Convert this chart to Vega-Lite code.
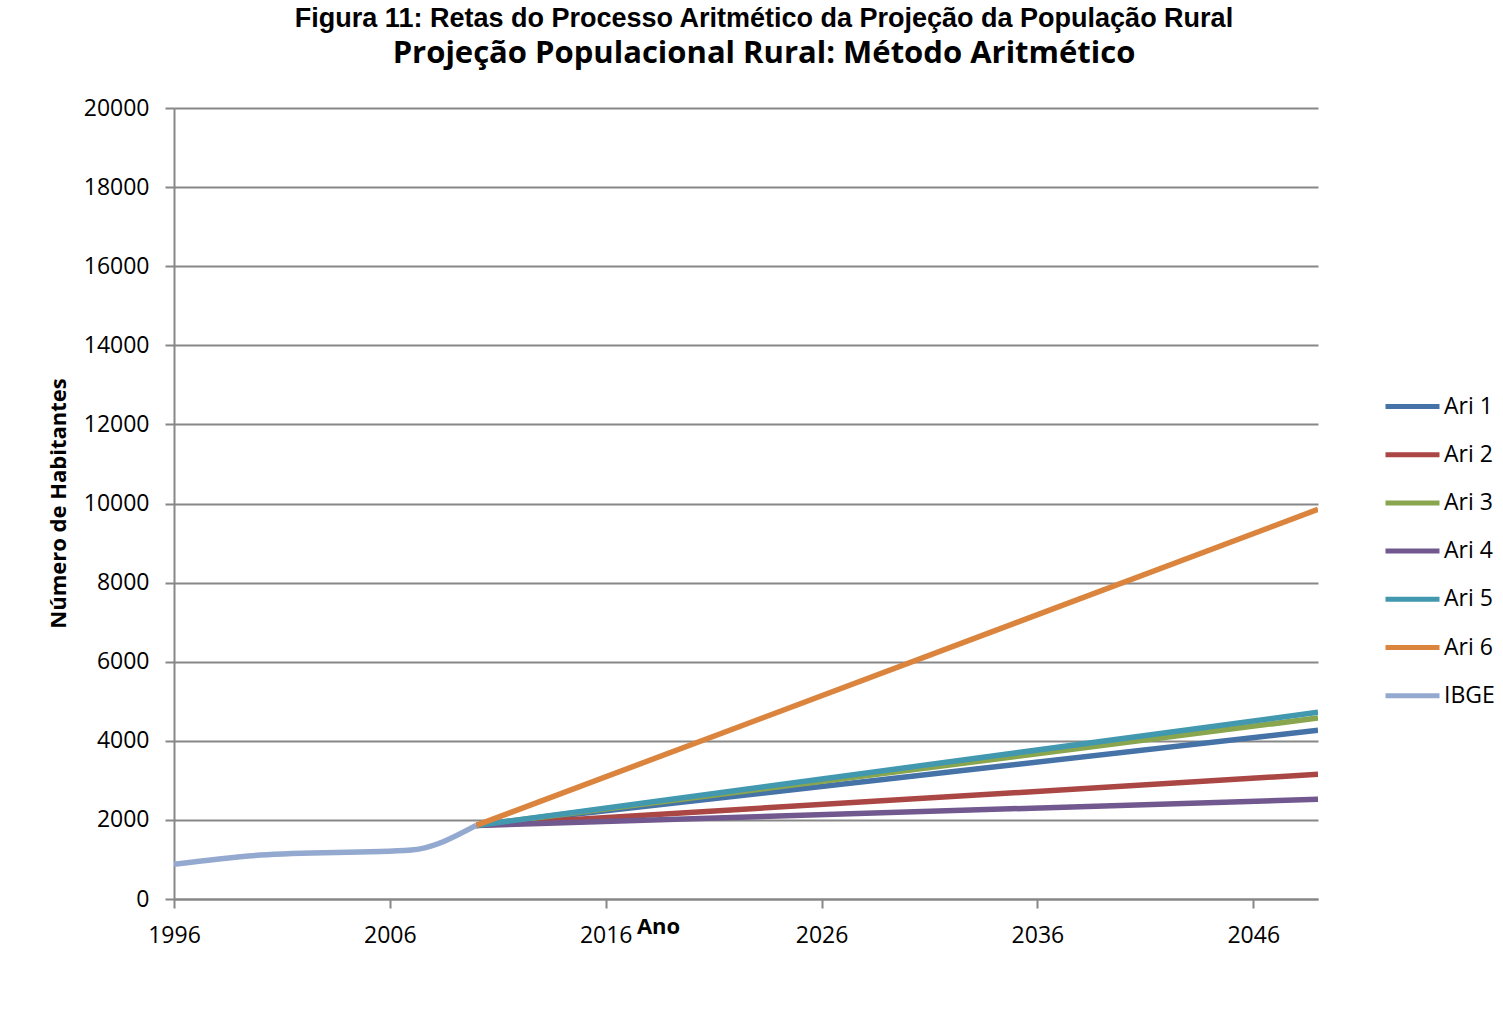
{
  "$schema": "https://vega.github.io/schema/vega-lite/v6.json",
  "width": 1144,
  "height": 791,
  "autosize": {"type": "none"},
  "padding": {"left": 174, "top": 108, "right": 185, "bottom": 116},
  "background": "white",
  "title": {
    "text": "Figura 11: Retas do Processo Aritmético da Projeção da População Rural",
    "subtitle": "Projeção Populacional Rural: Método Aritmético",
    "anchor": "middle",
    "frame": "group",
    "dx": 18,
    "offset": 27,
    "font": "Liberation Sans Narrow, Liberation Sans",
    "fontSize": 27,
    "fontWeight": "bold",
    "color": "black",
    "subtitleFont": "Open Sans",
    "subtitleFontSize": 31,
    "subtitleFontWeight": "bold",
    "subtitleColor": "black",
    "subtitlePadding": 6
  },
  "data": {
    "values": [
      {"serie": "Ari 1", "ano": 2010, "hab": 1860},
      {"serie": "Ari 1", "ano": 2049, "hab": 4265},
      {"serie": "Ari 2", "ano": 2010, "hab": 1860},
      {"serie": "Ari 2", "ano": 2049, "hab": 3153},
      {"serie": "Ari 3", "ano": 2010, "hab": 1860},
      {"serie": "Ari 3", "ano": 2049, "hab": 4577},
      {"serie": "Ari 4", "ano": 2010, "hab": 1860},
      {"serie": "Ari 4", "ano": 2049, "hab": 2521},
      {"serie": "Ari 5", "ano": 2010, "hab": 1860},
      {"serie": "Ari 5", "ano": 2049, "hab": 4721},
      {"serie": "Ari 6", "ano": 2010, "hab": 1860},
      {"serie": "Ari 6", "ano": 2049, "hab": 9853},
      {"serie": "IBGE", "ano": 1996, "hab": 880},
      {"serie": "IBGE", "ano": 2000, "hab": 1110},
      {"serie": "IBGE", "ano": 2007, "hab": 1240},
      {"serie": "IBGE", "ano": 2010, "hab": 1860}
    ]
  },
  "mark": {"type": "line", "strokeWidth": 5.5, "interpolate": "monotone", "clip": true},
  "encoding": {
    "x": {
      "field": "ano",
      "type": "quantitative",
      "scale": {"domain": [1996, 2049], "nice": false, "zero": false},
      "axis": {
        "title": "Ano",
        "values": [1996, 2006, 2016, 2026, 2036, 2046],
        "format": "d",
        "grid": false,
        "tickSize": 9,
        "labelPadding": 16,
        "labelFlush": false,
        "titleFontSize": 22,
        "titleX": 484,
        "titleY": 27,
        "titleBaseline": "middle",
        "titleAlign": "center"
      }
    },
    "y": {
      "field": "hab",
      "type": "quantitative",
      "scale": {"domain": [0, 20000], "nice": false},
      "axis": {
        "title": "Número de Habitantes",
        "values": [0, 2000, 4000, 6000, 8000, 10000, 12000, 14000, 16000, 18000, 20000],
        "format": "d",
        "grid": true,
        "tickSize": 9,
        "labelPadding": 16,
        "titleFontSize": 22,
        "titleX": -116,
        "titleY": 395,
        "titleAngle": -90,
        "titleBaseline": "middle",
        "titleAlign": "center"
      }
    },
    "color": {
      "field": "serie",
      "type": "nominal",
      "scale": {
        "domain": ["Ari 1", "Ari 2", "Ari 3", "Ari 4", "Ari 5", "Ari 6", "IBGE"],
        "range": ["#4572A7", "#AA4643", "#89A54E", "#71588F", "#4198AF", "#DB843D", "#93A9CF"]
      },
      "legend": {
        "title": null,
        "orient": "none",
        "legendX": 1209,
        "legendY": 269,
        "symbolType": "stroke",
        "symbolSize": 2916,
        "symbolStrokeWidth": 5,
        "labelOffset": 2,
        "labelFontSize": 23,
        "labelFont": "Open Sans",
        "labelColor": "black",
        "rowPadding": 6.2
      }
    }
  },
  "config": {
    "view": {"stroke": null},
    "axis": {
      "domainColor": "#878787",
      "domainWidth": 2,
      "tickColor": "#878787",
      "tickWidth": 2,
      "gridColor": "#878787",
      "gridWidth": 2,
      "labelFont": "Open Sans",
      "labelFontSize": 23,
      "labelColor": "black",
      "titleFont": "Open Sans",
      "titleFontSize": 20,
      "titleFontWeight": "bold",
      "titleColor": "black"
    }
  }
}
